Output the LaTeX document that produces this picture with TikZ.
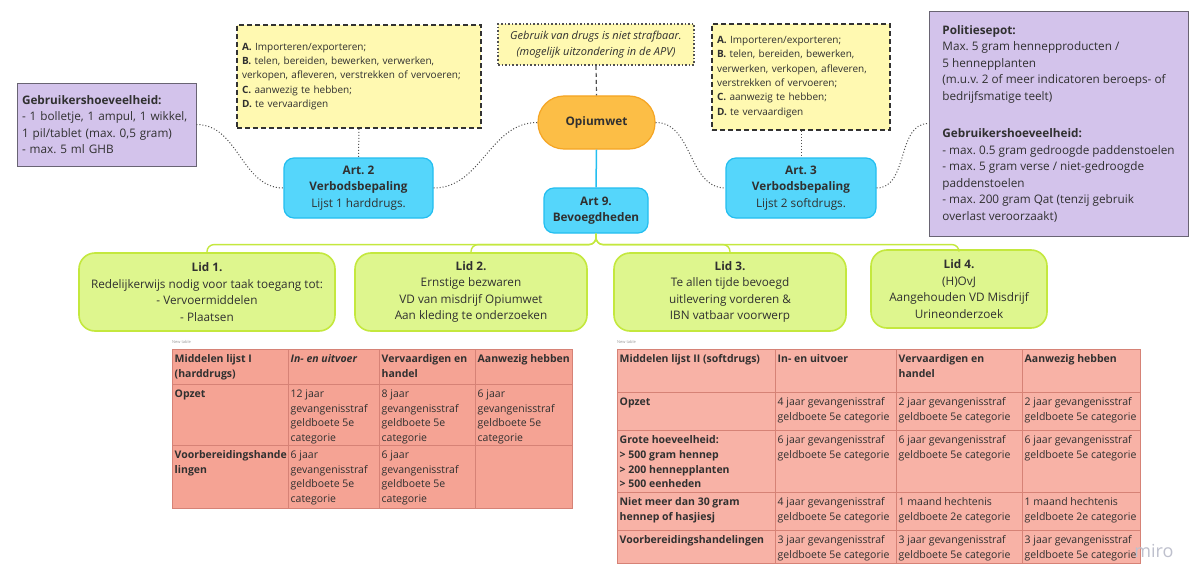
\documentclass[tikz,border=0pt]{standalone}
\usepackage{fontspec}
\setmainfont{Open Sans}
\usepackage{xcolor}
\usepackage{tikz}
\frenchspacing
\definecolor{lilavul}{RGB}{211,195,235}
\definecolor{lilarand}{RGB}{105,100,115}
\definecolor{geelvul}{RGB}{255,249,177}
\definecolor{geelrand}{RGB}{50,50,50}
\definecolor{cyaanvul}{RGB}{85,214,251}
\definecolor{cyaanrand}{RGB}{35,190,240}
\definecolor{oranjevul}{RGB}{252,190,70}
\definecolor{oranjerand}{RGB}{245,165,35}
\definecolor{limoenvul}{RGB}{222,246,142}
\definecolor{limoenrand}{RGB}{196,232,62}
\definecolor{zalmI}{RGB}{245,163,148}
\definecolor{zalmII}{RGB}{248,178,166}
\definecolor{zalmrand}{RGB}{214,130,118}
\definecolor{grijs}{RGB}{80,80,80}
\definecolor{tekst}{RGB}{48,48,48}
\definecolor{logogrijs}{RGB}{190,192,205}
\newcommand{\fnorm}{\fontsize{11.75}{16.5}\selectfont}
\newcommand{\fgeel}{\fontsize{10}{14.4}\selectfont}
\newcommand{\ftab}{\fontsize{10.5}{14.7}\selectfont}

\begin{document}
\begin{tikzpicture}[x=1pt,y=-1pt,
  blok/.style={rectangle,inner sep=0pt,font=\fnorm,text=tekst,align=center},
  lila/.style={blok,fill=lilavul,draw=lilarand,line width=0.9pt,align=left},
  geel/.style={blok,fill=geelvul,draw=geelrand,line width=1.8pt,dash pattern=on 5pt off 3pt,align=left,font=\fgeel},
  artikel/.style={blok,fill=cyaanvul,draw=cyaanrand,line width=1.2pt,rounded corners=10pt},
  lid/.style={blok,fill=limoenvul,draw=limoenrand,line width=1.6pt,rounded corners=16pt},
  stip/.style={draw=grijs,line width=1pt,dotted},
  tak/.style={draw=limoenrand,line width=1.4pt,rounded corners=7pt},
  cel/.style={anchor=north west,inner xsep=2.5pt,inner ysep=5.5pt,align=left,font=\ftab,text=tekst},
  rooster/.style={draw=zalmrand,line width=0.7pt}]
  \fill[white] (0,0) rectangle (1200,586);
  % bovenste rij
  \node[lila,text width=169pt,inner xsep=5pt,minimum height=83pt] (gebruik) at (106.5,124.5) {\textbf{Gebruikershoeveelheid:}\\- 1 bolletje, 1 ampul, 1 wikkel,\\1 pil/tablet (max. 0,5 gram)\\- max. 5 ml GHB};
  \node[geel,text width=234pt,inner xsep=5pt,minimum height=103pt] (handelI) at (359,76.5) {\textbf{A.} Importeren/exporteren;\\\textbf{B.} telen, bereiden, bewerken, verwerken,\\verkopen, afleveren, verstrekken of vervoeren;\\\textbf{C.} aanwezig te hebben;\\\textbf{D.} te vervaardigen};
  \node[blok,fill=geelvul,draw=grijs,line width=1.6pt,dotted,font=\fontsize{11}{16}\selectfont\itshape,minimum width=196pt,minimum height=41pt] (nietstrafbaar) at (596,44.5) {Gebruik van drugs is niet strafbaar.\\(mogelijk uitzondering in de APV)};
  \node[blok,fill=oranjevul,draw=oranjerand,line width=1.2pt,rounded corners=26pt,minimum width=117pt,minimum height=53pt] (opium) at (596.5,122.5) {\textbf{Opiumwet}};
  \node[geel,text width=168pt,inner xsep=5pt,minimum height=106pt] (handelII) at (801,77) {\textbf{A.} Importeren/exporteren;\\\textbf{B.} telen, bereiden, bewerken,\\verwerken, verkopen, afleveren,\\verstrekken of vervoeren;\\\textbf{C.} aanwezig te hebben;\\\textbf{D.} te vervaardigen};
  \node[lila,minimum width=259pt,minimum height=225pt] (sepot) at (1058.5,123.5) {\textbf{Politiesepot:}\\Max. 5 gram hennepproducten /\\5 hennepplanten\\(m.u.v. 2 of meer indicatoren beroeps- of\\bedrijfsmatige teelt)\\[21pt]\textbf{Gebruikershoeveelheid:}\\- max. 0.5 gram gedroogde paddenstoelen\\- max. 5 gram verse / niet-gedroogde\\paddenstoelen\\- max. 200 gram Qat (tenzij gebruik\\overlast veroorzaakt)};
  % artikelen
  \node[artikel,minimum width=149pt,minimum height=60pt] (art2) at (358.5,188) {\textbf{Art. 2}\\\textbf{Verbodsbepaling}\\Lijst 1 harddrugs.};
  \node[artikel,minimum width=104pt,minimum height=45pt] (art9) at (596,210.5) {\textbf{Art 9.}\\\textbf{Bevoegdheden}};
  \node[artikel,minimum width=150pt,minimum height=60pt] (art3) at (801,188) {\textbf{Art. 3}\\\textbf{Verbodsbepaling}\\Lijst 2 softdrugs.};
  % leden van art 9
  \node[lid,minimum width=256pt,minimum height=78pt] (lid1) at (207,292) {\textbf{Lid 1.}\\Redelijkerwijs nodig voor taak toegang tot:\\- Vervoermiddelen\\- Plaatsen};
  \node[lid,minimum width=232pt,minimum height=78pt] (lid2) at (471,292) {\textbf{Lid 2.}\\Ernstige bezwaren\\VD van misdrijf Opiumwet\\Aan kleding te onderzoeken};
  \node[lid,minimum width=232pt,minimum height=78pt] (lid3) at (730,292) {\textbf{Lid 3.}\\Te allen tijde bevoegd\\uitlevering vorderen \&\\IBN vatbaar voorwerp};
  \node[lid,minimum width=176pt,minimum height=78pt] (lid4) at (959,289) {\textbf{Lid 4.}\\(H)OvJ\\Aangehouden VD Misdrijf\\Urineonderzoek};
  % verbindingen
  \draw[stip] (gebruik.east) to[out=0,in=180] (art2.west);
  \draw[stip] (art2.east) to[out=0,in=180] (opium.west);
  \draw[stip] (opium.east) to[out=0,in=180] (art3.west);
  \draw[stip] (art3.east) to[out=0,in=180] (sepot.west);
  \draw[stip] (handelI.south) -- (art2.north);
  \draw[stip] (handelII.south) -- (art3.north);
  \draw[grijs,line width=1.2pt,dash pattern=on 4pt off 3pt] (nietstrafbaar.south) -- (opium.north);
  \draw[cyaanrand,line width=1.5pt] (opium.south) -- (art9.north);
  \foreach \l in {lid1,lid2,lid3,lid4} \draw[tak] (art9.south) -- ++(0,11) -| (\l.north);
  % tabel lijst I
  \node[anchor=west,inner sep=0pt,font=\fontsize{4}{5}\selectfont,text=black!40] (nieuwI) at (172,342) {New table};
  \fill[zalmI] (172,349) rectangle (572,508);
  \foreach \x in {288,379,475} \draw[rooster] (\x,349) -- (\x,508);
  \foreach \y in {384,445} \draw[rooster] (172,\y) -- (572,\y);
  \draw[rooster] (172,349) rectangle (572,508);
  \foreach \n/\x/\y/\t in {
    a1/172/349/{\textbf{Middelen lijst I}\\\textbf{(harddrugs)}},
    a2/288/349/{\textbf{\textit{In- en uitvoer}}},
    a3/379/349/{\textbf{Vervaardigen en}\\\textbf{handel}},
    a4/475/349/{\textbf{Aanwezig hebben}},
    b1/172/384/{\textbf{Opzet}},
    b2/288/384/{12 jaar\\gevangenisstraf\\geldboete 5e\\categorie},
    b3/379/384/{8 jaar\\gevangenisstraf\\geldboete 5e\\categorie},
    b4/475/384/{6 jaar\\gevangenisstraf\\geldboete 5e\\categorie},
    c1/172/445/{\textbf{Voorbereidingshande}\\\textbf{lingen}},
    c2/288/445/{6 jaar\\gevangenisstraf\\geldboete 5e\\categorie},
    c3/379/445/{6 jaar\\gevangenisstraf\\geldboete 5e\\categorie}}
    \node[cel] (I\n) at (\x,\y) {\t};
  % tabel lijst II
  \node[anchor=west,inner sep=0pt,font=\fontsize{4}{5}\selectfont,text=black!40] (nieuwII) at (617,342) {New table};
  \fill[zalmII] (617,349) rectangle (1140,563);
  \foreach \x in {775,896,1022} \draw[rooster] (\x,349) -- (\x,563);
  \foreach \y in {392,430,492,530} \draw[rooster] (617,\y) -- (1140,\y);
  \draw[rooster] (617,349) rectangle (1140,563);
  \foreach \n/\x/\y/\t in {
    a1/617/349/{\textbf{Middelen lijst II (softdrugs)}},
    a2/775/349/{\textbf{In- en uitvoer}},
    a3/896/349/{\textbf{Vervaardigen en}\\\textbf{handel}},
    a4/1022/349/{\textbf{Aanwezig hebben}},
    b1/617/392/{\textbf{Opzet}},
    b2/775/392/{4 jaar gevangenisstraf\\geldboete 5e categorie},
    b3/896/392/{2 jaar gevangenisstraf\\geldboete 5e categorie},
    b4/1022/392/{2 jaar gevangenisstraf\\geldboete 5e categorie},
    c1/617/430/{\textbf{Grote hoeveelheid:}\\\textbf{> 500 gram hennep}\\\textbf{> 200 hennepplanten}\\\textbf{> 500 eenheden}},
    c2/775/430/{6 jaar gevangenisstraf\\geldboete 5e categorie},
    c3/896/430/{6 jaar gevangenisstraf\\geldboete 5e categorie},
    c4/1022/430/{6 jaar gevangenisstraf\\geldboete 5e categorie},
    d1/617/492/{\textbf{Niet meer dan 30 gram}\\\textbf{hennep of hasjiesj}},
    d2/775/492/{4 jaar gevangenisstraf\\geldboete 5e categorie},
    d3/896/492/{1 maand hechtenis\\geldboete 2e categorie},
    d4/1022/492/{1 maand hechtenis\\geldboete 2e categorie},
    e1/617/530/{\textbf{Voorbereidingshandelingen}},
    e2/775/530/{3 jaar gevangenisstraf\\geldboete 5e categorie},
    e3/896/530/{3 jaar gevangenisstraf\\geldboete 5e categorie},
    e4/1022/530/{3 jaar gevangenisstraf\\geldboete 5e categorie}}
    \node[cel] (II\n) at (\x,\y) {\t};
  \node[inner sep=0pt,font=\fontsize{18}{18}\selectfont,text=logogrijs] (logo) at (1154,551) {miro};
\end{tikzpicture}
\end{document}
